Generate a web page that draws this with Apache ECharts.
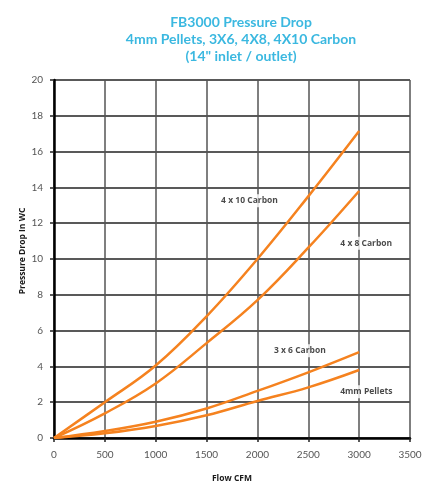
<!DOCTYPE html>
<html>
<head>
<meta charset="utf-8">
<script src="https://cdn.jsdelivr.net/npm/echarts@6/dist/echarts.min.js"></script>
<style>
html,body{margin:0;padding:0;background:#fff;}
#chart{width:432px;height:483px;}
</style>
</head>
<body>
<div id="chart"></div>
<script>
// Data
const flowCFM = [0, 500, 1000, 1500, 2000, 2500, 3000];
const carbon4x10 = [0, 2.0, 4.05, 6.8, 10.0, 13.5, 17.15];
const carbon4x8 = [0, 1.38, 3.05, 5.3, 7.7, 10.63, 13.8];
const carbon3x6 = [0, 0.39, 0.91, 1.65, 2.63, 3.67, 4.8];
const pellets4mm = [0, 0.26, 0.67, 1.27, 2.07, 2.83, 3.8];
const seriesNames = ['4 x 10 Carbon', '4 x 8 Carbon', '3 x 6 Carbon', '4mm Pellets'];
const titleLines = ['FB3000 Pressure Drop', '4mm Pellets, 3X6, 4X8, 4X10 Carbon', '(14" inlet / outlet)'];
const xAxisName = 'Flow CFM';
const yAxisName = 'Pressure Drop In WC';

// Annotation anchors (data coords) for the series labels
const labelAnchors = [[1922, 13.26], [3070, 10.88], [2417, 4.88], [3070, 2.59]];

const allSeries = [carbon4x10, carbon4x8, carbon3x6, pellets4mm];
const orange = '#f5821f';
const fontFam = 'Lato, "Open Sans", sans-serif';
const boldFam = '"Open Sans", Lato, sans-serif';

const chart = echarts.init(document.getElementById('chart'), null, {renderer: 'canvas'});

const series = allSeries.map((vals, i) => ({
  name: seriesNames[i],
  type: 'line',
  data: flowCFM.map((x, j) => [x, vals[j]]),
  smooth: 0.4,
  showSymbol: false,
  symbol: 'none',
  lineStyle: {color: orange, width: 2.5},
  z: 3
}));

series.push({
  type: 'scatter',
  data: labelAnchors.map((p, i) => ({value: p, name: seriesNames[i]})),
  symbolSize: 0,
  silent: true,
  z: 5,
  label: {
    show: true,
    position: 'inside',
    formatter: p => p.name,
    fontFamily: boldFam,
    fontWeight: 'bold',
    fontSize: 8.5,
    color: '#1a1a1a',
    backgroundColor: '#fff',
    padding: [2, 3]
  }
});

chart.setOption({
  animation: false,
  backgroundColor: '#fff',
  title: {
    text: titleLines.join('\n'),
    left: 236,
    textAlign: 'center',
    top: 9,
    textStyle: {
      color: '#3bb8e0',
      fontFamily: fontFam,
      fontWeight: 'bold',
      fontSize: 14,
      lineHeight: 17
    }
  },
  grid: {left: 54, right: 22, top: 80, bottom: 45, containLabel: false, outerBoundsMode: 'none'},
  xAxis: {
    type: 'value',
    min: 0, max: 3500, interval: 500,
    name: xAxisName,
    nameLocation: 'middle',
    nameGap: 36,
    nameMoveOverlap: false,
    nameTextStyle: {fontFamily: boldFam, fontWeight: 'bold', fontSize: 8.5, color: '#1a1a1a'},
    axisLine: {show: true, onZero: false, lineStyle: {color: '#000', width: 2.5}},
    axisTick: {show: true, length: 4, lineStyle: {color: '#222', width: 1.5}},
    axisLabel: {fontFamily: fontFam, fontSize: 10, color: '#555', margin: 12, formatter: v => String(v)},
    splitLine: {show: true, lineStyle: {color: '#555', width: 1.5}}
  },
  yAxis: {
    type: 'value',
    min: 0, max: 20, interval: 2,
    name: yAxisName,
    nameLocation: 'middle',
    nameGap: 27,
    nameMoveOverlap: false,
    nameTextStyle: {fontFamily: boldFam, fontWeight: 'bold', fontSize: 8.5, color: '#1a1a1a', padding: [0, 0, 0, 16]},
    axisLine: {show: true, onZero: false, lineStyle: {color: '#000', width: 2.5}},
    axisTick: {show: true, length: 4, lineStyle: {color: '#222', width: 1.5}},
    axisLabel: {fontFamily: fontFam, fontSize: 10, color: '#555', margin: 11, formatter: v => String(v)},
    splitLine: {show: true, lineStyle: {color: '#222', width: 1.5}}
  },
  series: series
});
</script>
</body>
</html>
